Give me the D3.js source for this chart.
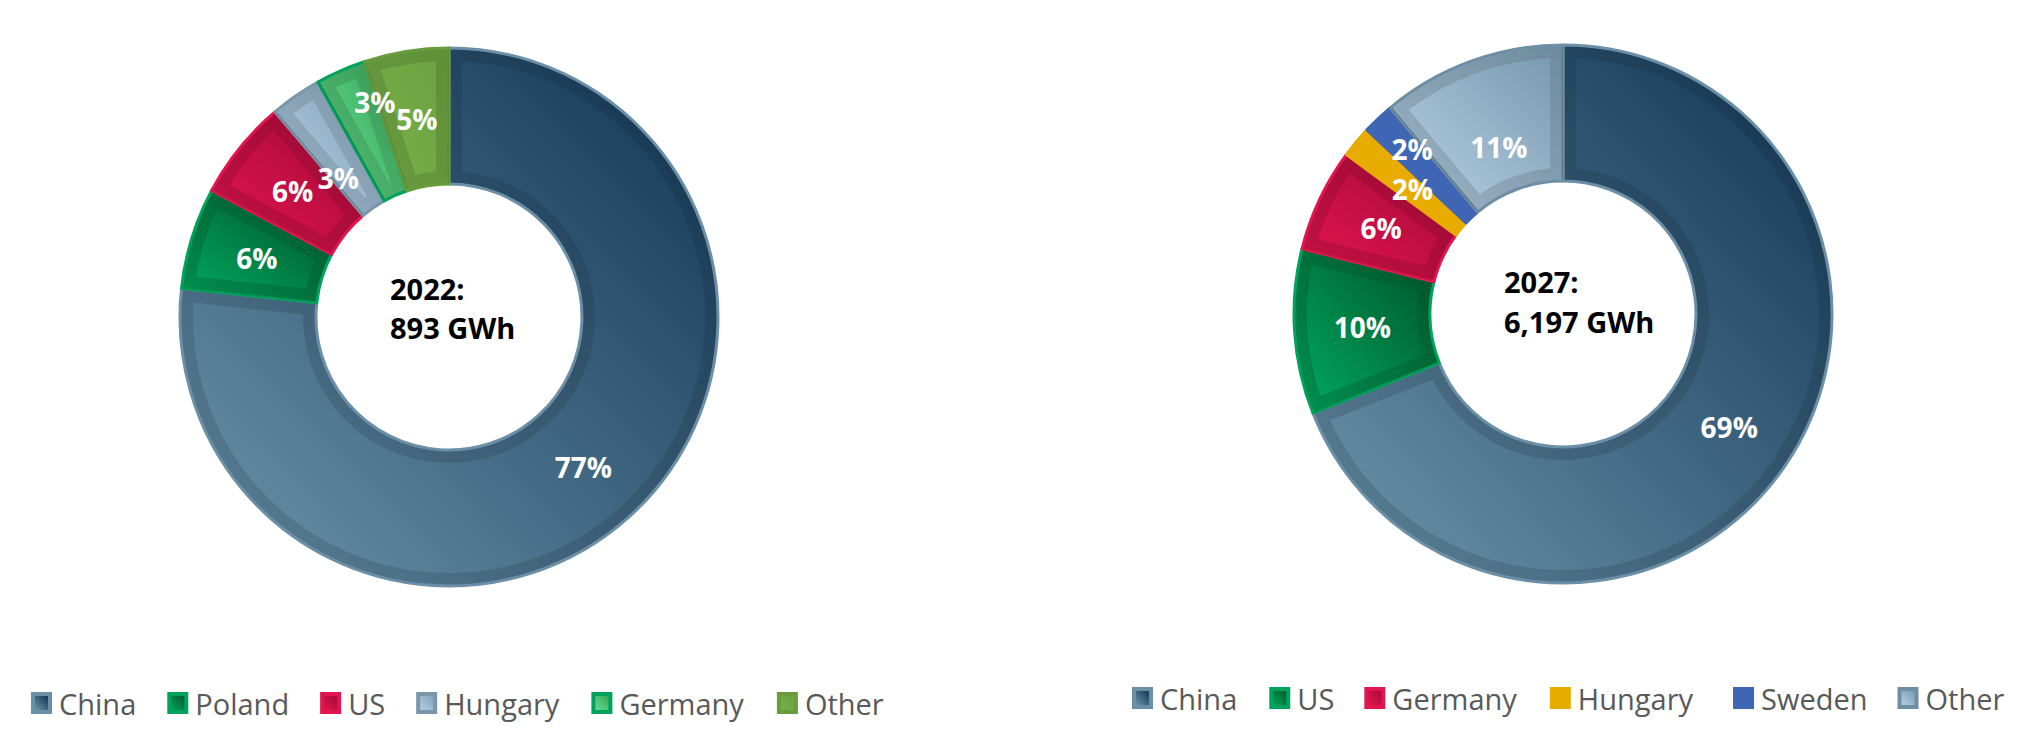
<!DOCTYPE html>
<html><head><meta charset="utf-8">
<script src="https://cdn.jsdelivr.net/npm/d3@7"></script>
<style>body{margin:0;background:#fff} svg{display:block}</style>
</head><body><svg id="c" width="2036" height="735"></svg>
<script>
// ---- data ----
const categories2022 = ["China","Poland","US","Hungary","Germany","Other"];
const values2022 = [76.7, 6.1, 6.0, 3.1, 3.0, 5.1];
const labels2022 = ["77%","6%","6%","3%","3%","5%"];
const year2022 = "2022:";
const total2022 = "893 GWh";

const categories2027 = ["China","US","Germany","Hungary","Sweden","Other"];
const values2027 = [69.0, 9.9, 6.2, 1.9, 1.9, 11.1];
const labels2027 = ["69%","10%","6%","2%","2%","11%"];
const year2027 = "2027:";
const total2027 = "6,197 GWh";

// ---- styles ----
const palette = {
  navy:      {bevel:true,  stroke:"#6b8fa6", light:"#6b94aa", dark:"#113555"},
  green:     {bevel:true,  stroke:"#00a35c", light:"#00a35c", dark:"#005a2b"},
  crimson:   {bevel:true,  stroke:"#e2164f", light:"#e0144f", dark:"#a90a38"},
  steel:     {bevel:true,  stroke:"#7a96ab", light:"#b2cce0", dark:"#86a4bb"},
  lightGreen:{bevel:true,  stroke:"#00a35c", light:"#66da8c", dark:"#38a85c"},
  olive:     {bevel:true,  stroke:"#689c3c", light:"#78b04a", dark:"#6ca240"},
  gold:      {bevel:false, stroke:"#e8ab00", light:"#e8ab00", dark:"#e8ab00"},
  blue:      {bevel:false, stroke:"#3e66b5", light:"#3e66b5", dark:"#3e66b5"},
  steelOther:{bevel:true,  stroke:"#6e8ea3", light:"#b4cde1", dark:"#7b9bb1"}
};
const styles2022 = ["navy","green","crimson","steel","lightGreen","olive"];
const styles2027 = ["navy","green","crimson","gold","blue","steelOther"];

const R_OUT = 269, R_IN = 133, BAND = 13;

const svg = d3.select("#c");
const defs = svg.append("defs");
let gid = 0;
function gradient(st){
  const id = "g" + (gid++);
  const lg = defs.append("linearGradient").attr("id", id)
    .attr("x1", 1).attr("y1", 0).attr("x2", 0).attr("y2", 1);
  lg.append("stop").attr("offset", "0%").attr("stop-color", st.dark);
  lg.append("stop").attr("offset", "100%").attr("stop-color", st.light);
  return "url(#" + id + ")";
}

function donut(cfg){
  const g = svg.append("g").attr("transform", `translate(${cfg.cx},${cfg.cy})`);
  const data = cfg.cats.map((c,i)=>({name:c, value:cfg.vals[i], label:cfg.labels[i],
    st:palette[cfg.styles[i]], nudge:cfg.nudge[c]||[0,0]}));
  const arcs = d3.pie().value(d=>d.value).sort(null)(data);
  const arc = d3.arc().innerRadius(R_IN).outerRadius(R_OUT);
  const shade = d3.arc().innerRadius(R_IN + 1.5).outerRadius(R_OUT - 1.5);
  const inset = d3.arc().innerRadius(R_IN + BAND).outerRadius(R_OUT - BAND)
    .padRadius(R_OUT).padAngle(2 * BAND / R_OUT);

  arcs.forEach(a => {
    const st = a.data.st;
    const fill = gradient(st);
    g.append("path").attr("d", arc(a)).attr("fill", fill)
      .attr("stroke", st.stroke).attr("stroke-width", 3).attr("stroke-linejoin","round");
    if (st.bevel) {
      g.append("path").attr("d", shade(a)).attr("fill", "#000").attr("opacity", 0.11);
      g.append("path").attr("d", inset(a)).attr("fill", fill);
    }
  });
  arcs.forEach(a => {
    const mid = (a.startAngle + a.endAngle) / 2 + a.data.nudge[1] * Math.PI / 180;
    const r = (R_IN + R_OUT) / 2 + a.data.nudge[0];
    g.append("text")
      .attr("x", Math.sin(mid) * r).attr("y", -Math.cos(mid) * r)
      .attr("text-anchor", "middle").attr("dominant-baseline", "central")
      .attr("font-family", "'Open Sans', sans-serif").attr("font-weight", 700)
      .attr("font-size", 28).attr("fill", "#fff").text(a.data.label);
  });
  const ct = g.append("text").attr("font-family", "'Open Sans', sans-serif")
    .attr("font-weight", 700).attr("font-size", 29).attr("fill", "#000");
  ct.append("tspan").attr("x", -59).attr("y", cfg.ty[0]).text(cfg.year);
  ct.append("tspan").attr("x", -59).attr("y", cfg.ty[1]).text(cfg.total);

  // legend
  let x = cfg.lx;
  const lg = svg.append("g");
  data.forEach((d, i) => {
    const st = d.st;
    if (st.bevel) {
      lg.append("rect").attr("x", x).attr("y", cfg.ly - 11).attr("width", 21).attr("height", 22).attr("fill", st.stroke);
      lg.append("rect").attr("x", x + 4).attr("y", cfg.ly - 7).attr("width", 13).attr("height", 14).attr("fill", gradient(st));
    } else {
      lg.append("rect").attr("x", x).attr("y", cfg.ly - 11).attr("width", 21).attr("height", 22).attr("fill", st.light);
    }
    const t = lg.append("text").attr("x", x + 28).attr("y", cfg.ly)
      .attr("dominant-baseline", "central")
      .attr("font-family", "'Open Sans', sans-serif").attr("font-size", 29)
      .attr("fill", "#595959").text(d.name);
    x += 28 + t.node().getComputedTextLength() + (cfg.gaps[i] || 31);
  });
}

donut({cx:449, cy:317, cats:categories2022, vals:values2022, labels:labels2022, styles:styles2022,
  nudge:{Hungary:[-23,-3.7], Germany:[26,4.7]}, year:year2022, total:total2022, ty:[-17,22],
  lx:31, ly:703, gaps:[31,31,31,32,33]});
donut({cx:1563, cy:314, cats:categories2027, vals:values2027, labels:labels2027, styles:styles2027,
  nudge:{Hungary:[-5,0], Sweden:[23,1], Other:[-22,-1]}, year:year2027, total:total2027, ty:[-21,19],
  lx:1132, ly:698, gaps:[32,30,33,40,30]});
</script>
</body></html>
